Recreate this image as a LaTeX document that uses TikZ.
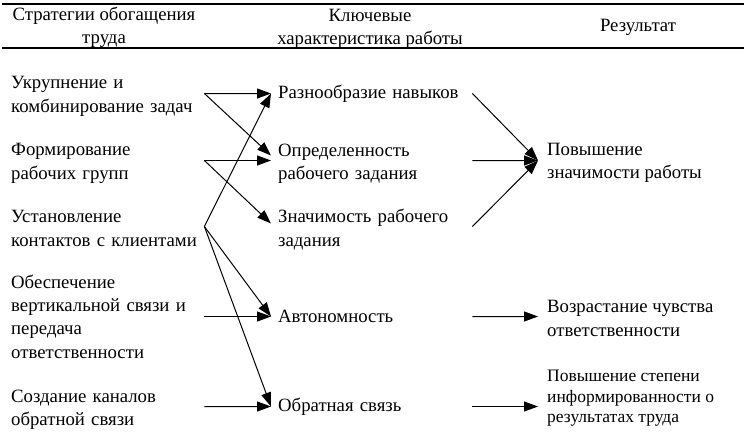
\documentclass[tikz,border=0pt]{standalone}
\usepackage{fontspec}
\setmainfont{Liberation Serif}
\usetikzlibrary{arrows.meta}

\begin{document}
\begin{tikzpicture}[x=1bp,y=-1bp,
  txt/.style={font=\fontsize{18.75bp}{23.3bp}\selectfont},
  head/.style={txt,align=center,inner sep=0},
  lft/.style={txt,anchor=west,align=left,inner sep=0,text width=193bp},
  mid/.style={txt,anchor=west,align=left,inner xsep=7bp,inner ysep=0,text width=187bp},
  res/.style={txt,anchor=west,align=left,inner xsep=9bp,inner ysep=0},
  arr/.style={-{Triangle[length=14bp,width=10bp]},line width=1bp}]
\useasboundingbox (0,0) rectangle (744,431);

% Header
\draw[line width=2bp] (2,4) -- (744,4);
\draw[line width=2bp] (2,48) -- (744,48);
\node[head] (h1) at (104,27) {Стратегии обогащения\\труда};
\node[head] (h2) at (370,29) {Ключевые\\характеристика работы};
\node[head,anchor=base] (h3) at (638,31.7) {Результат};

\begin{scope}[yshift=-0.5bp]
% Strategies
\node[lft] (s1) at (11,96) {Укрупнение и\\комбинирование задач};
\node[lft] (s2) at (11,163) {Формирование\\рабочих групп};
\node[lft] (s3) at (11,228) {Установление\\контактов с клиентами};
\node[lft] (s4) at (11,316) {Обеспечение\\вертикальной связи и\\передача\\ответственности};
\node[lft] (s5) at (11,409) {Создание каналов\\обратной связи};

% Key characteristics
\node[mid] (k1) at (271,93) {Разнообразие навыков};
\node[mid] (k2) at (271,163) {Определенность\\рабочего задания};
\node[mid] (k3) at (271,229) {Значимость рабочего\\задания};
\node[mid] (k4) at (271,316) {Автономность};
\node[mid] (k5) at (271,406) {Обратная связь};

% Results
\node[res] (r1) at (538,162) {Повышение\\значимости работы};
\node[res] (r2) at (538,318) {Возрастание чувства\\ответственности};
\node[res,font=\fontsize{17.5bp}{20.5bp}\selectfont] (r3) at (538,398) {Повышение степени\\информированности о\\результатах труда};

\draw[arr] ([yshift=3bp]s1.east) -- (k1.west);
\draw[arr] ([yshift=3bp]s1.east) -- ([yshift=8bp]k2.west);
\draw[arr] ([yshift=3bp]s2.east) -- ([yshift=3bp]k2.west);
\draw[arr] ([yshift=3bp]s2.east) -- ([yshift=6bp]k3.west);
\draw[arr] ([yshift=2bp]s3.east) -- (k1.west);
\draw[arr] ([yshift=2bp]s3.east) -- (k4.west);
\draw[arr] ([yshift=2bp]s3.east) -- (k5.west);
\draw[arr] (s4.east) -- (k4.west);
\draw[arr] ([yshift=3bp]s5.east) -- (k5.west);

\draw[arr] (k1.east) -- ([yshift=2bp]r1.west);
\draw[arr] ([yshift=3bp]k2.east) -- ([yshift=2bp]r1.west);
\draw[arr] ([yshift=3bp]k3.east) -- ([yshift=2bp]r1.west);
\draw[arr] (k4.east) -- ([yshift=2bp]r2.west);
\draw[arr] (k5.east) -- (k5.east -| r3.west);
\end{scope}
\end{tikzpicture}
\end{document}
